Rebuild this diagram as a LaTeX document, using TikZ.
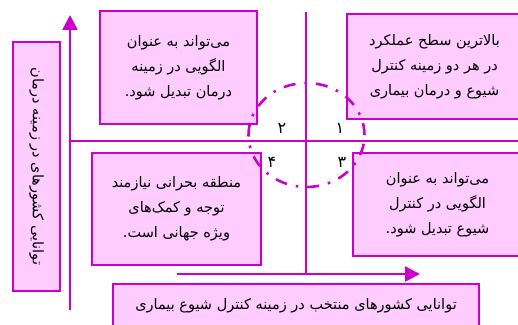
\documentclass[tikz,border=0pt]{standalone}
\usepackage{fontspec}
\newfontfamily\arabicfont[Script=Arabic]{DejaVu Sans}
\TeXXeTstate=1
\usetikzlibrary{arrows.meta}
\definecolor{magline}{RGB}{204,0,204}
\definecolor{pinkbox}{RGB}{255,204,255}
\newcommand{\fatext}[1]{\beginR #1\endR}

\begin{document}
\begin{tikzpicture}[x=1pt,y=1pt]
    \tikzset{box/.style = {draw=magline, fill=pinkbox, line width=1.2pt, inner sep=0pt, align=center, font=\arabicfont\fontsize{14.5}{25}\selectfont}}
    \tikzset{axis/.style = {draw=magline, line width=2.4pt, -{Triangle[length=15pt,width=15pt]}}}
    \tikzset{divider/.style = {draw=magline, line width=2pt}}
    \tikzset{zone/.style = {draw=magline, line width=2.6pt, dash pattern=on 12pt off 9pt on 2.5pt off 9pt}}
    \tikzset{num/.style = {font=\arabicfont\fontsize{16}{18}\selectfont}}
    \useasboundingbox (0,0) rectangle (518,324);
    \clip (0,0) rectangle (518,324);
    % axes and dividers
    \coordinate (ybot) at (70,14);
    \coordinate (ytop) at (70,309);
    \coordinate (xleft) at (177,50);
    \coordinate (xright) at (420,50);
    \coordinate (hleft) at (70,183);
    \coordinate (hright) at (524,183);
    \coordinate (vtop) at (306,312);
    \coordinate (vbot) at (306,50);
    \draw[axis] (ybot) -- (ytop);
    \draw[axis] (xleft) -- (xright);
    \draw[divider] (hleft) -- (hright);
    \draw[divider] (vtop) -- (vbot);
    % boxes
    \node[box, rotate=-90, minimum width=249pt, minimum height=47pt] (ylab) at (36.5,157.5) {\fatext{توانایی کشورهای در زمینه درمان}};
    \node[box, minimum width=366pt, minimum height=44pt] (xlab) at (296,18) {\fatext{توانایی کشورهای منتخب در زمینه کنترل شیوع بیماری}};
    \node[box, minimum width=157pt, minimum height=113pt] (q2) at (178.5,256.5) {\fatext{می‌تواند به عنوان}\\\fatext{الگویی در زمینه}\\\fatext{درمان تبدیل شود.}};
    \node[box, minimum width=175pt, minimum height=105pt] (q1) at (434.5,257.5) {\fatext{بالاترین سطح عملکرد}\\\fatext{در هر دو زمینه کنترل}\\\fatext{شیوع و درمان بیماری}};
    \node[box, minimum width=169pt, minimum height=112pt] (q4) at (176.5,115) {\fatext{منطقه بحرانی نیازمند}\\\fatext{توجه و کمک‌های}\\\fatext{ویژه جهانی است.}};
    \node[box, minimum width=169pt, minimum height=103pt] (q3) at (437.5,119.5) {\fatext{می‌تواند به عنوان}\\\fatext{الگویی در کنترل}\\\fatext{شیوع تبدیل شود.}};
    % quadrant numbers
    \node[num] (n1) at (340,196) {۱};
    \node[num] (n2) at (282,196) {۲};
    \node[num] (n3) at (342,162) {۳};
    \node[num] (n4) at (272,162) {۴};
    % dashed zone
    \draw[zone] (306.5,189) ellipse [x radius=58, y radius=52];
\end{tikzpicture}
\end{document}
